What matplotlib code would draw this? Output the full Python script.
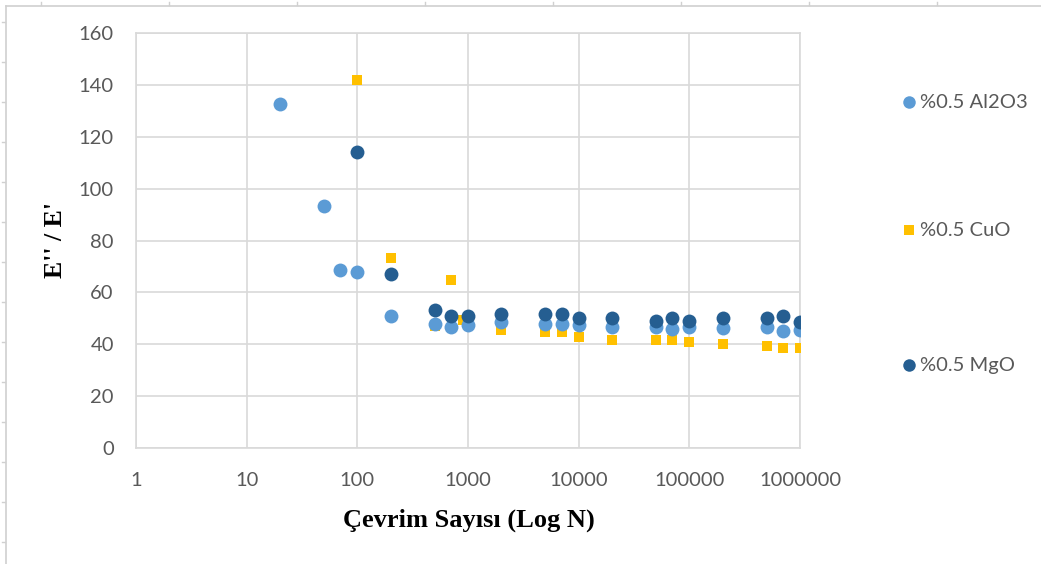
import matplotlib
matplotlib.use("Agg")
import matplotlib.pyplot as plt
from matplotlib.lines import Line2D
from matplotlib.ticker import FixedLocator, FixedFormatter

# Cycle counts and E''/E' ratios for each nanoparticle additive
n_al2o3 = [20, 50, 70, 100, 200, 500, 700, 1000, 2000, 5000, 7000, 10000,
           20000, 50000, 70000, 100000, 200000, 500000, 700000, 1000000]
v_al2o3 = [132.6, 93.3, 68.6, 67.8, 50.9, 48.0, 46.6, 47.4, 48.6, 47.8, 47.8,
           47.4, 46.6, 46.6, 45.9, 46.6, 46.3, 46.6, 45.1, 45.5]

n_cuo = [100, 200, 500, 700, 900, 2000, 5000, 7000, 10000, 20000, 50000,
         70000, 100000, 200000, 500000, 700000, 1000000]
v_cuo = [142.0, 73.2, 47.0, 64.8, 49.3, 45.5, 44.7, 44.7, 42.8, 41.6, 41.6,
         41.6, 40.9, 40.1, 39.3, 38.6, 38.6]

n_mgo = [100, 200, 500, 700, 1000, 2000, 5000, 7000, 10000, 20000, 50000,
         70000, 100000, 200000, 500000, 700000, 1000000]
v_mgo = [114.1, 67.1, 53.2, 50.9, 50.9, 51.7, 51.7, 51.7, 50.1, 50.1, 49.0,
         50.1, 49.0, 50.1, 50.1, 50.9, 48.6]

series_labels = ["%0.5 Al2O3", "%0.5 CuO", "%0.5 MgO"]
x_ticks = [1, 10, 100, 1000, 10000, 100000, 1000000]
x_tick_labels = ["1", "10", "100", "1000", "10000", "100000", "1000000"]
y_ticks = [0, 20, 40, 60, 80, 100, 120, 140, 160]

c_al = "#5B9BD5"
c_cu = "#FFC000"
c_mg = "#255E91"
grid_c = "#D9D9D9"
text_c = "#595959"
tick_font = "Lato"
tick_size = 14.5

W, H = 1041, 564
fig = plt.figure(figsize=(W / 100, H / 100), dpi=100)
fig.patch.set_facecolor("white")

ax = fig.add_axes([136 / W, 1 - 448 / H, (800 - 136) / W, (448 - 33) / H])
ax.set_xscale("log")
ax.set_xlim(1, 1e6)
ax.set_ylim(0, 160)

ax.xaxis.set_major_locator(FixedLocator(x_ticks))
ax.xaxis.set_major_formatter(FixedFormatter(x_tick_labels))
ax.xaxis.set_minor_locator(FixedLocator([]))
ax.set_yticks(y_ticks)
ax.set_yticklabels([str(v) for v in y_ticks])

ax.grid(True, which="major", color=grid_c, linewidth=1.2)
ax.set_axisbelow(True)
for s in ax.spines.values():
    s.set_color(grid_c)
    s.set_linewidth(1.2)

ax.tick_params(axis="both", length=0, labelsize=tick_size, labelcolor=text_c,
               labelfontfamily=tick_font)
ax.tick_params(axis="x", pad=17.5)
ax.tick_params(axis="y", pad=16)

ax.scatter(n_cuo, v_cuo, marker="s", s=52, color=c_cu, linewidths=0, zorder=3)
ax.scatter(n_al2o3, v_al2o3, marker="o", s=100, color=c_al, linewidths=0, zorder=4)
ax.scatter(n_mgo, v_mgo, marker="o", s=100, color=c_mg, linewidths=0, zorder=5)

fig.text(469 / W, 1 - 520 / H, "Çevrim Sayısı (Log N)", fontsize=19,
         fontweight="bold", family="Liberation Serif", ha="center", va="center")
fig.text(55 / W, 1 - 240 / H, "E'' / E'", rotation=90, fontsize=18.5,
         fontweight="bold", family="Liberation Serif", ha="center", va="center")

# Legend entries to the right of the plot
legend_rows = [(102, "o", 9, c_al), (230, "s", 7, c_cu), (365, "o", 9, c_mg)]
for (ypx, mk, ms, col), lab in zip(legend_rows, series_labels):
    yf = 1 - ypx / H
    fig.add_artist(Line2D([909 / W], [yf], marker=mk, markersize=ms,
                          color=col, markeredgewidth=0, linestyle="none",
                          transform=fig.transFigure))
    fig.text(920 / W, yf, lab, fontsize=tick_size, color=text_c,
             family=tick_font, ha="left", va="center")

# Outer chart frame with small ruler ticks
frame_c = "#D0D0D0"
fig.add_artist(Line2D([6 / W, 6 / W], [0, 1 - 6 / H], color=frame_c,
                      linewidth=1.2, transform=fig.transFigure))
fig.add_artist(Line2D([6 / W, 1], [1 - 6 / H, 1 - 6 / H], color=frame_c,
                      linewidth=1.2, transform=fig.transFigure))
for xp in range(41, W, 128):
    fig.add_artist(Line2D([xp / W, xp / W], [1 - 2 / H, 1 - 5 / H],
                          color=frame_c, linewidth=1, transform=fig.transFigure))
for yp in range(22, H, 40):
    fig.add_artist(Line2D([2 / W, 5 / W], [1 - yp / H, 1 - yp / H],
                          color=frame_c, linewidth=1, transform=fig.transFigure))

fig.savefig("out.png", dpi=100)
